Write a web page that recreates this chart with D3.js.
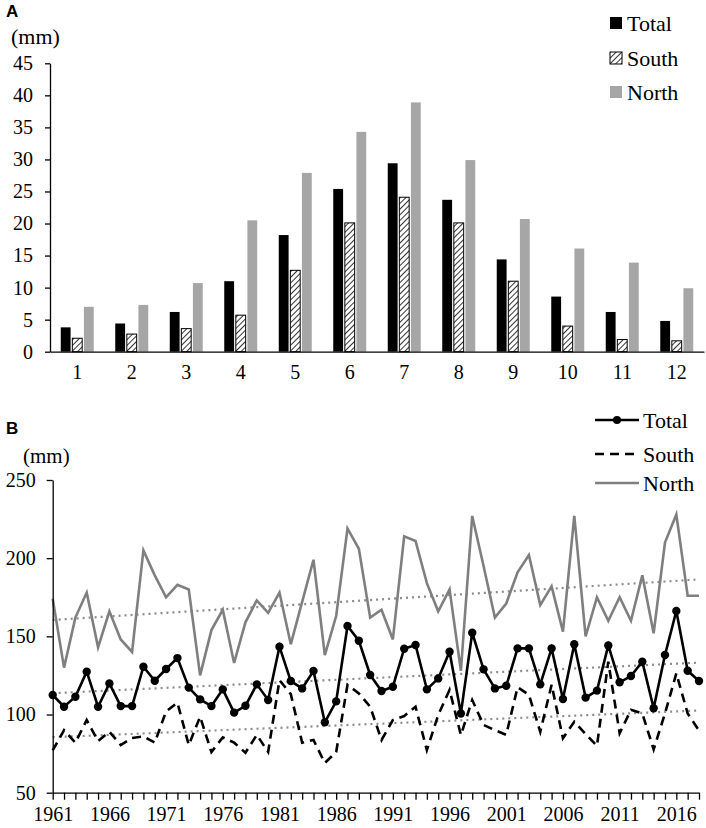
<!DOCTYPE html>
<html>
<head>
<meta charset="utf-8">
<script src="https://cdn.jsdelivr.net/npm/d3@7"></script>
<style>
  body { margin: 0; background: #fff; }
  text { font-family: "Liberation Serif", "Times New Roman", serif; }
</style>
</head>
<body>
<svg id="chart"></svg>
<script>
// panel A: monthly means
var months = [1,2,3,4,5,6,7,8,9,10,11,12];
var monthTotal = [3.8, 4.4, 6.2, 11.0, 18.2, 25.4, 29.4, 23.7, 14.4, 8.6, 6.2, 4.8];
var monthSouth = [2.1, 2.75, 3.6, 5.7, 12.7, 20.1, 24.1, 20.1, 11.0, 4.0, 1.9, 1.7];
var monthNorth = [7.0, 7.3, 10.7, 20.5, 27.9, 34.3, 38.9, 29.9, 20.7, 16.1, 13.9, 9.9];
var yTicksA = [0,5,10,15,20,25,30,35,40,45];

// panel B: yearly totals 1961-2018
var years = d3.range(1961, 2019);
var yearTotal = [112.5,105,111.4,127.4,105,119.9,105.4,105.4,130.6,121.6,
  129.1,136.1,117.2,109.7,105.4,116.1,101.2,105.6,119.3,109.3,
  143.4,121.4,116.7,127.8,95,108.4,156.6,147.2,125.3,115,
  117.8,142.1,144.5,116.1,123.1,140.2,100.7,152.3,128.9,116.7,
  118.4,142.3,142.3,119.3,142.3,109.9,144.9,110.8,115.3,144.2,
  120.6,124.6,133.8,104,138.1,166.2,128,121.4];
var yearSouth = [77,90,82,96.5,83,89,80.5,85,86,82,
  102,107.6,80.5,98.6,76,85.4,82,75.6,87,76,
  122,113,82,83.7,69,76,119,113.5,105,83.7,
  96.5,99,105,77.3,99.7,115.7,86.9,109.3,93.3,90,
  87,117.5,112.6,89,119,84.8,95.4,87.5,80,133.8,
  88,103,100.7,77.7,100.7,126.3,100.7,89.7];
var yearNorth = [174,130,162,178,143,166,148,140,205,189,
  175,183,180,125,154,167,133,159,173,165,
  178,145,172,199,138,163,219,206,162,167,
  148,214,211,184,166,180,128,227,195,162,
  171,191,202,170,182,153,227,150,175,160,
  175,160,189,152,210,228,176,176];
var yTicksB = [50,100,150,200,250];
var yearLabels = [1961,1966,1971,1976,1981,1986,1991,1996,2001,2006,2011,2016];

var series = ["Total", "South", "North"];

var svg = d3.select("#chart")
  .attr("width", 706)
  .attr("height", 828)
  .style("display", "block")
  .style("background-color", "#fff");

var defs = svg.append("defs");
var hatch = defs.append("pattern")
  .attr("id", "hatch")
  .attr("patternUnits", "userSpaceOnUse")
  .attr("width", 4).attr("height", 4)
  .attr("patternTransform", "rotate(45)");
hatch.append("rect").attr("width", 4).attr("height", 4).attr("fill", "#fff");
hatch.append("line").attr("x1", 0).attr("y1", 0).attr("x2", 0).attr("y2", 4)
  .attr("stroke", "#000").attr("stroke-width", 1.6);

var fills = {Total: "#000", South: "url(#hatch)", North: "#a6a6a6"};

// ---------- panel A ----------
var xA = d3.scaleBand().domain(months).range([50, 704]);
var xSub = d3.scaleBand().domain(series).range([0, 33]).paddingInner(0.15);
var yA = d3.scaleLinear().domain([0, 45]).range([351.7, 63.3]);

var gA = svg.append("g");
var rowsA = months.map(function(m, i) {
  return {month: m, Total: monthTotal[i], South: monthSouth[i], North: monthNorth[i]};
});

gA.selectAll("g.month")
  .data(rowsA)
  .enter()
  .append("g")
    .attr("transform", function(d) { return "translate(" + (xA(d.month) + (xA.bandwidth() - 33) / 2) + ",0)"; })
  .selectAll("rect")
  .data(function(d) { return series.map(function(s) { return {key: s, value: d[s]}; }); })
  .enter()
  .append("rect")
    .attr("x", function(d) { return xSub(d.key); })
    .attr("y", function(d) { return yA(d.value); })
    .attr("width", xSub.bandwidth())
    .attr("height", function(d) { return yA(0) - yA(d.value); })
    .attr("fill", function(d) { return fills[d.key]; })
    .attr("stroke", function(d) { return d.key == "South" ? "#000" : "none"; })
    .attr("stroke-width", 1);

gA.append("g")
  .attr("transform", "translate(50,0)")
  .call(d3.axisLeft(yA).tickValues(yTicksA).tickSize(5).tickSizeOuter(0).tickPadding(12));
gA.append("g")
  .attr("transform", "translate(0," + yA(0) + ")")
  .call(d3.axisBottom(xA).tickSize(0).tickPadding(13));

// legend A
var legA = gA.append("g");
series.forEach(function(s, i) {
  var cy = [23, 58, 92][i];
  legA.append("rect").attr("x", 610).attr("y", cy - 6).attr("width", 12).attr("height", 12)
    .attr("fill", fills[s]).attr("stroke", s == "South" ? "#000" : "none");
  legA.append("text").attr("x", 627).attr("y", cy).attr("dy", "0.35em")
    .style("font-size", "22px").text(s);
});

svg.append("text").attr("x", 6).attr("y", 17)
  .style("font-family", "'Liberation Sans', Arial, sans-serif")
  .style("font-weight", "bold").style("font-size", "17px").text("A");
svg.append("text").attr("x", 11).attr("y", 36).attr("dy", "0.35em")
  .style("font-size", "22px").text("(mm)");

// ---------- panel B ----------
var xB = d3.scaleLinear().domain([1961, 2018]).range([52.7, 699]);
var yB = d3.scaleLinear().domain([50, 250]).range([792.7, 480]);
var gB = svg.append("g");

var trendColor = "#8c8c8c";
function trend(vals) {
  var mx = d3.mean(years), my = d3.mean(vals);
  var num = d3.sum(years, function(x, i) { return (x - mx) * (vals[i] - my); });
  var den = d3.sum(years, function(x) { return (x - mx) * (x - mx); });
  var b = num / den, a = my - b * mx;
  return [1961, 2018].map(function(x) { return [x, a + b * x]; });
}

var line = d3.line()
  .x(function(d) { return xB(d[0]); })
  .y(function(d) { return yB(d[1]); });

[yearNorth, yearTotal, yearSouth].forEach(function(vals) {
  gB.append("path")
    .attr("d", line(trend(vals)))
    .attr("fill", "none")
    .attr("stroke", trendColor)
    .attr("stroke-width", 2.2)
    .attr("stroke-dasharray", "2,4");
});

var lineStyles = {
  North: {vals: yearNorth, color: "#7f7f7f", dash: null},
  South: {vals: yearSouth, color: "#000", dash: "9,6"},
  Total: {vals: yearTotal, color: "#000", dash: null}
};

["North", "South", "Total"].forEach(function(s) {
  var st = lineStyles[s];
  gB.append("path")
    .datum(years.map(function(y, i) { return [y, st.vals[i]]; }))
    .attr("d", line)
    .attr("fill", "none")
    .attr("stroke", st.color)
    .attr("stroke-width", 2.6)
    .attr("stroke-dasharray", st.dash);
});

gB.selectAll("circle.pt")
  .data(years)
  .enter()
  .append("circle")
    .attr("cx", function(d) { return xB(d); })
    .attr("cy", function(d, i) { return yB(yearTotal[i]); })
    .attr("r", 4.2)
    .attr("fill", "#000");

gB.append("g")
  .attr("transform", "translate(52.7,0)")
  .call(d3.axisLeft(yB).tickValues(yTicksB).tickSize(6).tickSizeOuter(0).tickPadding(11));
gB.append("g")
  .attr("transform", "translate(0," + yB(50) + ")")
  .call(d3.axisBottom(xB).tickValues(years).tickSize(7).tickSizeOuter(0).tickPadding(7)
    .tickFormat(function(d) { return yearLabels.indexOf(d) >= 0 ? d : ""; }));

// legend B
var legB = gB.append("g");
var legRows = [{s: "Total", y: 420}, {s: "South", y: 454}, {s: "North", y: 483}];
legRows.forEach(function(r) {
  var st = lineStyles[r.s];
  legB.append("line").attr("x1", 595).attr("x2", 639).attr("y1", r.y).attr("y2", r.y)
    .attr("stroke", st.color).attr("stroke-width", 2.6).attr("stroke-dasharray", st.dash);
  if (r.s == "Total") legB.append("circle").attr("cx", 617).attr("cy", r.y).attr("r", 4).attr("fill", "#000");
  legB.append("text").attr("x", 643).attr("y", r.y).attr("dy", "0.35em")
    .style("font-size", "22px").text(r.s);
});

svg.append("text").attr("x", 6).attr("y", 434)
  .style("font-family", "'Liberation Sans', Arial, sans-serif")
  .style("font-weight", "bold").style("font-size", "17px").text("B");
svg.append("text").attr("x", 23).attr("y", 456).attr("dy", "0.35em")
  .style("font-size", "21px").text("(mm)");

// shared axis styling
svg.selectAll(".tick text").style("font-size", "20px").style("font-family", "'Liberation Serif', serif").attr("fill", "#000");
svg.selectAll(".domain").attr("stroke", "#000").attr("stroke-width", 1.3);
svg.selectAll(".tick line").attr("stroke", "#000").attr("stroke-width", 1.3);
</script>
</body>
</html>
